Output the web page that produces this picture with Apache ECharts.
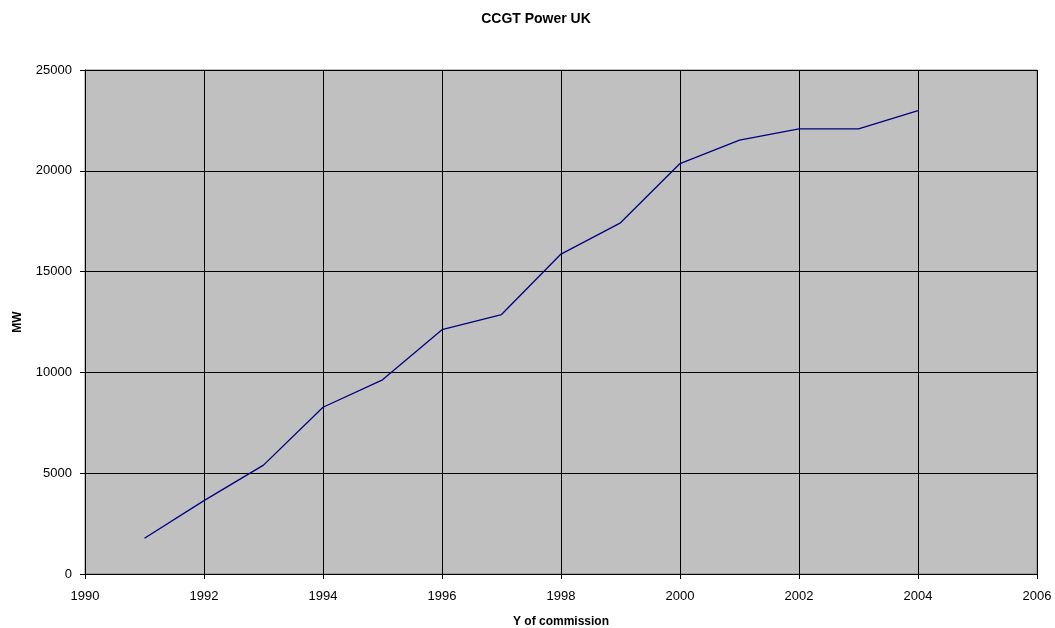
<!DOCTYPE html>
<html><head><meta charset="utf-8">
<script src="https://cdn.jsdelivr.net/npm/echarts@6/dist/echarts.min.js"></script>
<style>html,body{margin:0;padding:0;background:#fff}#c{width:1055px;height:628px}</style>
</head><body><div id="c"></div>
<script>
const years = [1991,1992,1993,1994,1995,1996,1997,1998,1999,2000,2001,2002,2003,2004];
const mw = [1770,3640,5400,8270,9630,12120,12870,15870,17420,20360,21520,22080,22080,22990];
const title = 'CCGT Power UK';
const xName = 'Y of commission';
const yName = 'MW';
const font = 'Liberation Sans, Arial, sans-serif';
const chart = echarts.init(document.getElementById('c'), null, {renderer:'canvas'});
chart.setOption({
  animation:false,
  backgroundColor:'#ffffff',
  title:{text:title,left:531,textAlign:'center',top:7,textStyle:{fontFamily:font,fontSize:14,fontWeight:'bold',color:'#000'}},
  grid:{left:85,right:18,top:70,bottom:54,outerBoundsMode:'none',containLabel:false,show:true,backgroundColor:'#c0c0c0',borderColor:'#808080',borderWidth:1},
  xAxis:{type:'value',min:1990,max:2006,interval:2,
    name:xName,nameLocation:'middle',nameGap:42,
    nameTextStyle:{fontFamily:font,fontSize:12,fontWeight:'bold',color:'#000'},
    axisLine:{show:true,onZero:false,lineStyle:{color:'#000',width:1}},
    axisTick:{show:true,length:5,lineStyle:{color:'#000'}},
    axisLabel:{fontFamily:font,fontSize:13,color:'#000',margin:16,formatter:v=>String(v)},
    splitLine:{show:true,lineStyle:{color:'#000',width:1}}},
  yAxis:{type:'value',min:0,max:25000,interval:5000,
    name:yName,nameLocation:'middle',nameGap:61,nameRotate:90,
    nameTextStyle:{fontFamily:font,fontSize:12,fontWeight:'bold',color:'#000'},
    axisLine:{show:true,lineStyle:{color:'#000',width:1}},
    axisTick:{show:true,length:5,lineStyle:{color:'#000'}},
    axisLabel:{fontFamily:font,fontSize:13,color:'#000',margin:13,formatter:v=>String(v)},
    splitLine:{show:true,lineStyle:{color:'#000',width:1}}},
  series:[{type:'line',data:years.map((y,i)=>[y,mw[i]]),symbol:'none',
    lineStyle:{color:'#000080',width:1.3},itemStyle:{color:'#000080'}}]
});
</script></body></html>
